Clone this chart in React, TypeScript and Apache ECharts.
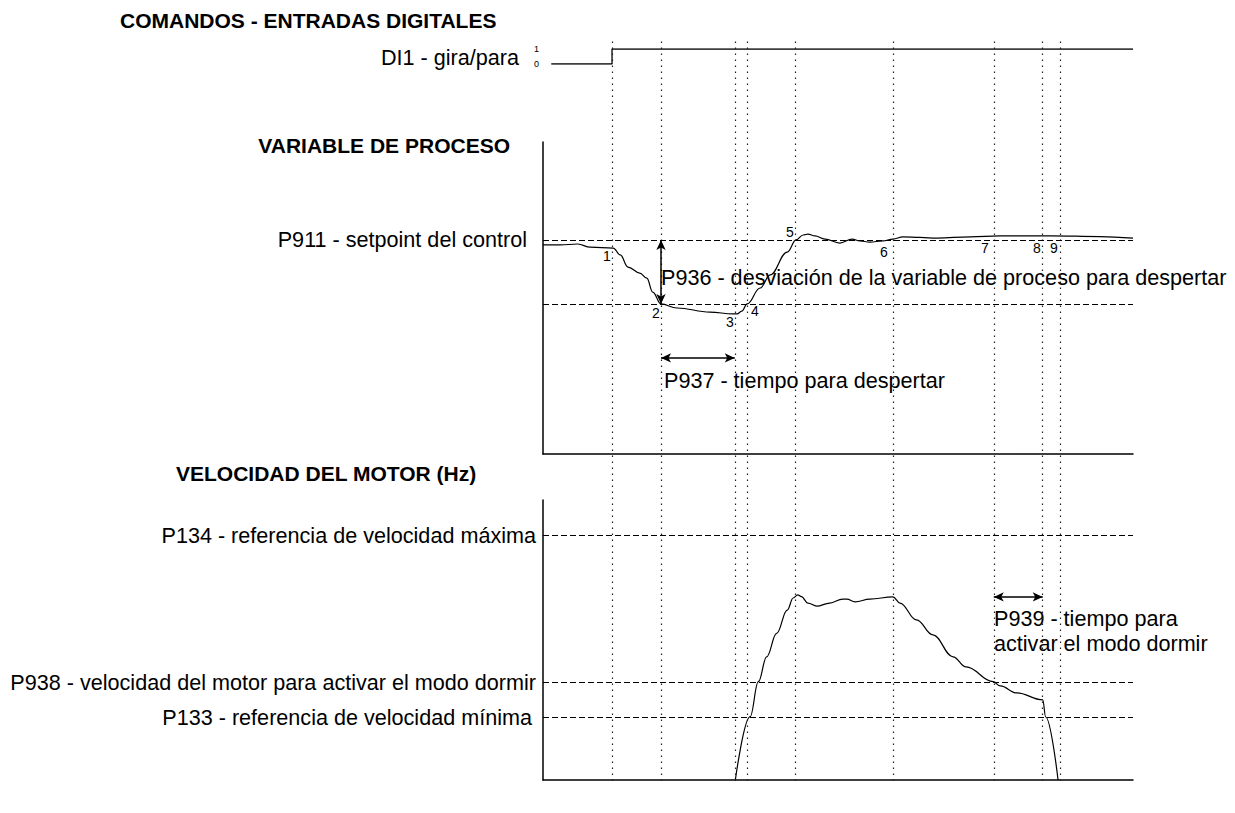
import React, { useEffect, useRef } from "react";
import * as echarts from "echarts";

// ---- data (time axis 0..100, value axes 0..100) ----
const markTimes = [11.7, 20.0, 32.5, 34.6, 42.7, 59.3, 76.4, 84.7, 87.6];

const diTime = [1.4, 11.7, 11.7, 100];
const diValue = [0, 0, 1, 1];

const pvTime = [0, 2.9, 5.9, 8.0, 11.9, 13.1, 14.4, 16.4, 17.6, 18.6, 20.0, 22.7, 28.3, 32.2, 32.9, 33.7, 34.6, 36.8, 38.5, 41.4, 42.9, 44.1, 44.9, 46.1, 47.8, 50.3, 52.4, 53.7, 55.4, 57.6, 59.3, 61.0, 63.9, 66.8, 72.4, 77.5, 86.1, 94.4, 100];
const pvValue = [67.0, 67.0, 67.3, 66.3, 66.0, 63.8, 59.9, 58.0, 56.4, 51.9, 48.1, 46.8, 45.5, 44.9, 44.9, 45.8, 48.1, 53.2, 57.4, 64.7, 68.6, 70.2, 70.5, 69.9, 68.9, 67.6, 68.9, 68.3, 67.9, 68.3, 68.9, 69.6, 69.4, 69.2, 69.6, 69.9, 69.9, 69.7, 69.2];

const motorTime = [32.6, 35.1, 36.5, 37.9, 39.6, 41.4, 42.4, 43.2, 43.8, 44.9, 46.4, 48.6, 50.8, 51.5, 52.9, 55.4, 59.3, 60.5, 63.3, 66.1, 69.5, 71.7, 76.3, 77.5, 80.3, 84.7, 85.2, 87.3];
const motorValue = [0, 22.6, 35.1, 44.0, 52.4, 60.7, 65.0, 66.1, 65.5, 63.2, 62.1, 63.2, 64.6, 64.6, 63.6, 64.6, 65.4, 63.2, 57.2, 51.8, 44.0, 40.4, 35.1, 33.6, 31.1, 28.6, 22.5, 0];

const setpoint = 68.6;
const wakeLevel = 48.1;
const p134 = 87.5;
const p938 = 35;
const p133 = 22.5;

const p936Arrow = { t: 20.0, from: setpoint, to: wakeLevel };
const p937Arrow = { from: 20.0, to: 32.5, v: 30.8 };
const p939Arrow = { from: 76.4, to: 84.7, v: 65.4 };

const FONT = "'Liberation Sans', Arial, sans-serif";

export default function App() {
  const ref = useRef<HTMLDivElement>(null);
  useEffect(() => {
    if (!ref.current) return;
    const chart = echarts.init(ref.current, null, { renderer: "svg" });
    const L = 543, R = 1235 - 1133;
    const hidden = { show: false };
    const axisBlack = { show: true, lineStyle: { color: "#000", width: 1.5 } };
    const xBase = (gi: number, line: boolean) => ({
      type: "value", gridIndex: gi, min: 0, max: 100,
      axisLine: line ? axisBlack : hidden, axisTick: hidden, axisLabel: hidden, splitLine: hidden,
    });
    const yBase = (gi: number, line: boolean) => ({
      type: "value", gridIndex: gi, min: 0, max: 100,
      axisLine: line ? axisBlack : hidden, axisTick: hidden, axisLabel: hidden, splitLine: hidden,
    });
    const dashed = { color: "#000", width: 1, type: [6, 3] };
    const txt = (x: number, y: number, text: string, o: any = {}) => ({
      type: "text", x, y,
      style: { text, fill: "#000", font: `${o.bold ? "bold " : ""}${o.size || 21.6}px ${FONT}`, textAlign: o.align || "left", textVerticalAlign: "middle" },
    });
    const arrowLine = { color: "#000", width: 1.5, type: "solid" };
    const arrowPair = (a: number[], b: number[]) => [
      { coord: a, symbol: "arrow", symbolSize: [7, 10], lineStyle: arrowLine },
      { coord: b, symbol: "arrow", symbolSize: [7, 10] },
    ];

    const labels = [
      txt(120, 20, "COMANDOS - ENTRADAS DIGITALES", { bold: true, size: 21 }),
      txt(519, 57, "DI1 - gira/para", { align: "right" }),
      txt(510, 145, "VARIABLE DE PROCESO", { bold: true, size: 21, align: "right" }),
      txt(527, 239, "P911 - setpoint del control", { align: "right" }),
      txt(661, 277, "P936 - desviación de la variable de proceso para despertar"),
      txt(664, 380, "P937 - tiempo para despertar"),
      txt(176, 473, "VELOCIDAD DEL MOTOR (Hz)", { bold: true, size: 21 }),
      txt(536, 535, "P134 - referencia de velocidad máxima", { align: "right" }),
      txt(536, 682, "P938 - velocidad del motor para activar el modo dormir", { align: "right" }),
      txt(532, 717, "P133 - referencia de velocidad mínima", { align: "right" }),
      txt(994, 618, "P939 - tiempo para"),
      txt(994, 643, "activar el modo dormir"),
      txt(607, 256, "1", { size: 14, align: "center" }),
      txt(656, 313, "2", { size: 14, align: "center" }),
      txt(730, 322, "3", { size: 14, align: "center" }),
      txt(755, 311, "4", { size: 14, align: "center" }),
      txt(790, 232, "5", { size: 14, align: "center" }),
      txt(884, 252, "6", { size: 14, align: "center" }),
      txt(985, 248, "7", { size: 14, align: "center" }),
      txt(1037, 248, "8", { size: 14, align: "center" }),
      txt(1054, 248, "9", { size: 14, align: "center" }),
    ];

    chart.setOption({
      animation: false,
      backgroundColor: "#fff",
      textStyle: { fontFamily: FONT },
      grid: [
        { left: L, right: R, top: 38, bottom: 32 },
        { left: L, right: R, top: 49, height: 15 },
        { left: L, right: R, top: 142, bottom: 813 - 454 },
        { left: L, right: R, top: 500, bottom: 33 },
      ],
      xAxis: [xBase(0, false), xBase(1, false), xBase(2, true), xBase(3, true)],
      yAxis: [
        { ...yBase(0, false), max: 1 },
        {
          type: "value", gridIndex: 1, min: 0, max: 1, interval: 1,
          axisLine: hidden, axisTick: hidden, splitLine: hidden,
          axisLabel: { show: true, fontSize: 9, color: "#000", margin: 4, fontFamily: FONT },
        },
        yBase(2, true),
        yBase(3, true),
      ],
      series: [
        {
          type: "line", xAxisIndex: 0, yAxisIndex: 0, data: [], silent: true,
          markLine: {
            silent: true, symbol: "none", label: { show: false },
            lineStyle: { color: "#222", width: 1.2, type: [1.5, 4.5] },
            data: markTimes.map((t) => ({ xAxis: t })),
          },
        },
        {
          type: "line", xAxisIndex: 1, yAxisIndex: 1, showSymbol: false,
          lineStyle: { color: "#000", width: 1.3 },
          data: diTime.map((t, i) => [t, diValue[i]]),
        },
        {
          type: "line", xAxisIndex: 2, yAxisIndex: 2, showSymbol: false, smooth: 0.4, smoothMonotone: "x",
          lineStyle: { color: "#000", width: 1.2 },
          data: pvTime.map((t, i) => [t, pvValue[i]]),
          markLine: {
            silent: true, symbol: "none", label: { show: false },
            data: [
              { yAxis: setpoint, lineStyle: dashed },
              { yAxis: wakeLevel, lineStyle: dashed },
              arrowPair([p936Arrow.t, p936Arrow.from], [p936Arrow.t, p936Arrow.to]),
              arrowPair([p937Arrow.from, p937Arrow.v], [p937Arrow.to, p937Arrow.v]),
            ],
          },
        },
        {
          type: "line", xAxisIndex: 3, yAxisIndex: 3, showSymbol: false, smooth: 0.4, smoothMonotone: "x",
          lineStyle: { color: "#000", width: 1.2 },
          data: motorTime.map((t, i) => [t, motorValue[i]]),
          markLine: {
            silent: true, symbol: "none", label: { show: false },
            data: [
              { yAxis: p134, lineStyle: dashed },
              { yAxis: p938, lineStyle: dashed },
              { yAxis: p133, lineStyle: dashed },
              arrowPair([p939Arrow.from, p939Arrow.v], [p939Arrow.to, p939Arrow.v]),
            ],
          },
        },
      ],
      graphic: labels,
    });
    return () => chart.dispose();
  }, []);
  return <div ref={ref} style={{ position: "fixed", left: 0, top: 0, width: 1235, height: 813 }} />;
}
